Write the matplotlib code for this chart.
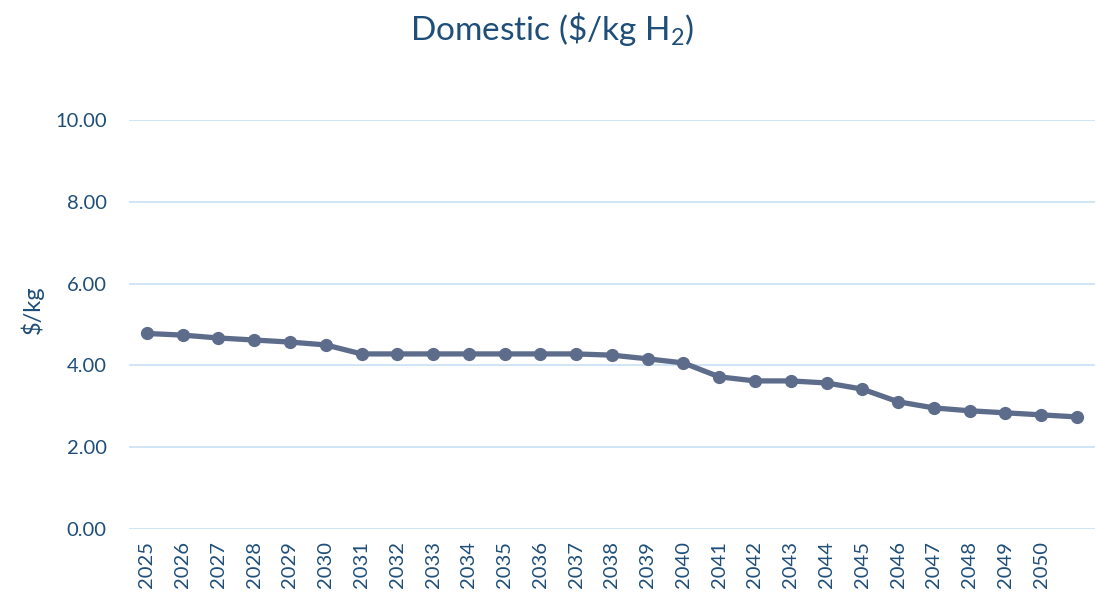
import matplotlib
matplotlib.use("Agg")
import matplotlib.pyplot as plt

# years on the category axis; the last category has no label
years = [str(y) for y in range(2025, 2051)] + [""]
cost = [4.78, 4.74, 4.67, 4.62, 4.57, 4.50, 4.28, 4.28, 4.28, 4.28,
        4.28, 4.28, 4.28, 4.25, 4.16, 4.06, 3.72, 3.62, 3.62, 3.57,
        3.42, 3.11, 2.96, 2.89, 2.84, 2.79, 2.74]
yticks = [0, 2, 4, 6, 8, 10]

text_color = "#1F4E79"
line_color = "#5D6C8A"
grid_color = "#CDE3F6"

plt.rcParams["font.family"] = ["Lato", "DejaVu Sans"]
plt.rcParams["mathtext.default"] = "regular"

fig = plt.figure(figsize=(10.97, 5.99), dpi=100)
ax = fig.add_axes([0.1176, 0.1169, 0.8804, 0.6828])

x = list(range(len(years)))
ax.plot(x, cost, color=line_color, lw=3.8, marker="o", markersize=8.5, zorder=3)

ax.set_xlim(-0.5, len(years) - 0.5)
ax.set_ylim(0, 10)
ax.set_yticks(yticks)
ax.set_yticklabels(["{:.2f}".format(v) for v in yticks], fontsize=14.5, color=text_color)
ax.set_xticks(x)
ax.set_xticklabels(years, rotation=90, fontsize=14.5, color=text_color)
ax.tick_params(length=0)
ax.tick_params(axis="x", pad=9)
ax.tick_params(axis="y", pad=16)

ax.grid(axis="y", color=grid_color, lw=1.3)
ax.set_axisbelow(True)
for s in ax.spines.values():
    s.set_visible(False)

ax.set_ylabel("$/kg", fontsize=17, color=text_color)
ax.yaxis.set_label_coords(-0.088, 0.535)
fig.text(0.503, 0.952, "Domestic (\\$/kg H$_2$)", fontsize=24, color=text_color,
         ha="center", va="center")

fig.savefig("out.png", dpi=100)
